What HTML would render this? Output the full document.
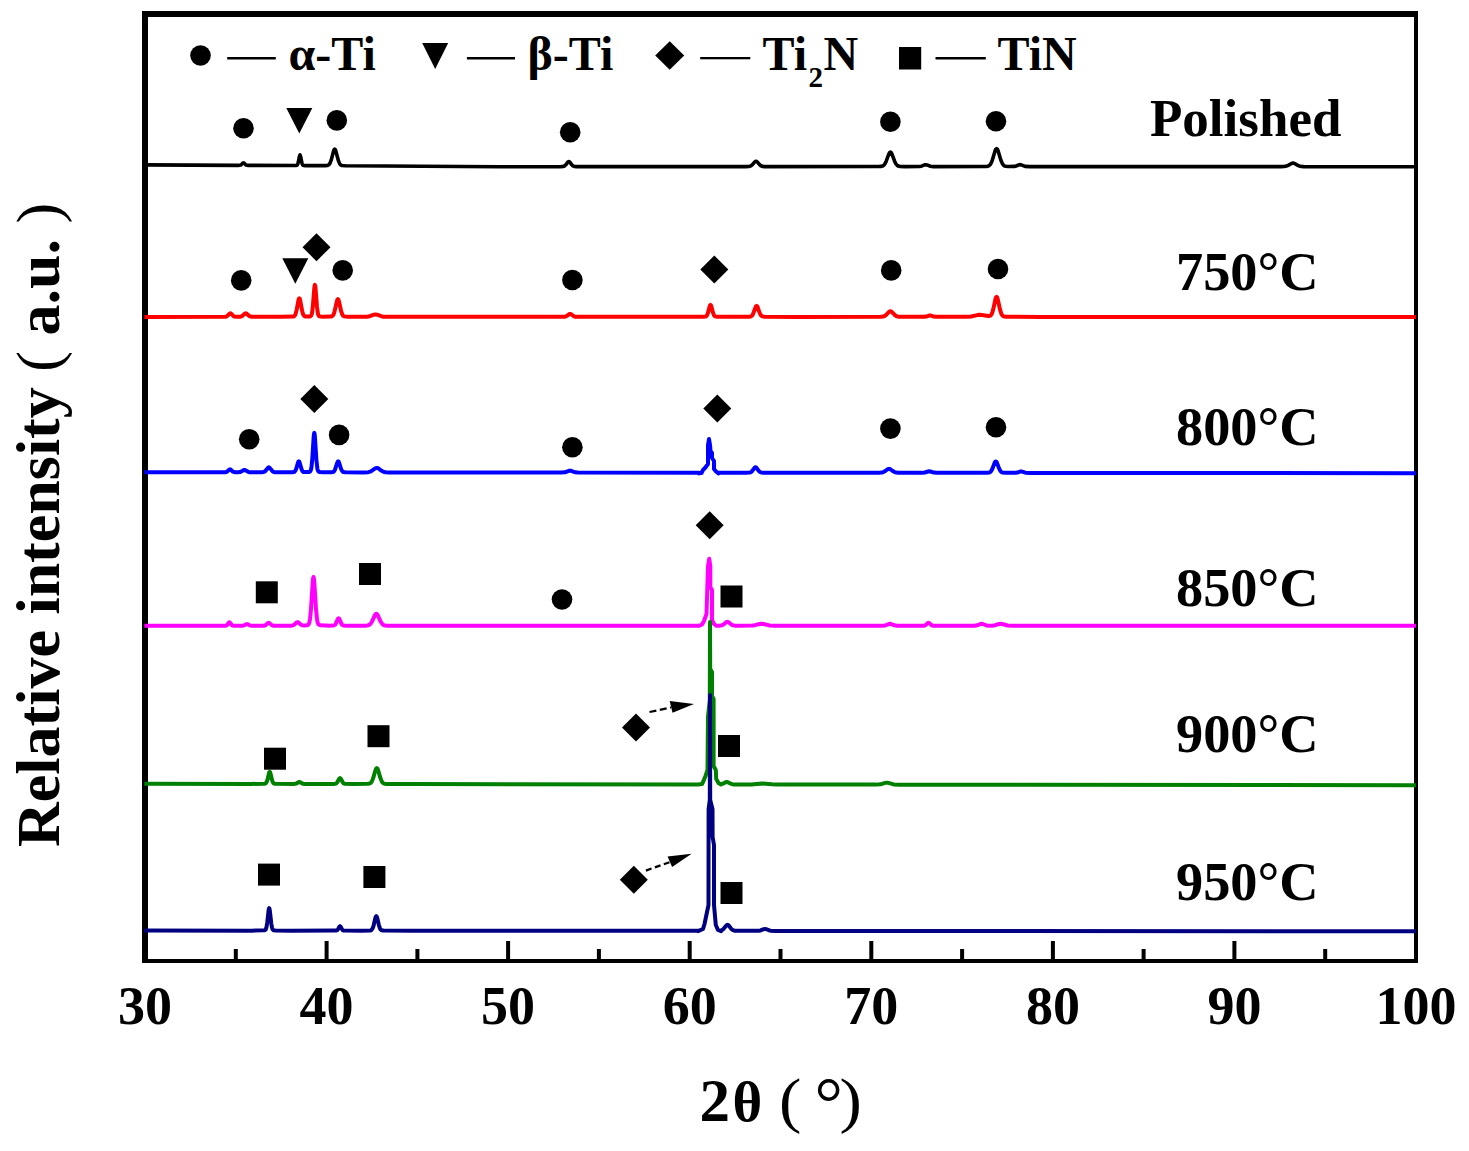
<!DOCTYPE html>
<html><head><meta charset="utf-8"><style>
html,body{margin:0;padding:0;background:#fff;}
svg{display:block;}
.t{font-family:"Liberation Serif",serif;font-weight:bold;fill:#000;}
</style></head><body>
<svg width="1469" height="1151" viewBox="0 0 1469 1151">
<rect width="1469" height="1151" fill="#fff"/>
<rect x="142" y="11" width="6" height="952"/>
<rect x="142" y="11" width="1276" height="6"/>
<rect x="1414" y="11" width="4" height="952"/>
<rect x="142" y="959" width="1276" height="4"/>
<g><rect x="233.8" y="949" width="4" height="10"/><rect x="324.6" y="941" width="4" height="18"/><rect x="415.4" y="949" width="4" height="10"/><rect x="506.1" y="941" width="4" height="18"/><rect x="596.9" y="949" width="4" height="10"/><rect x="687.7" y="941" width="4" height="18"/><rect x="778.5" y="949" width="4" height="10"/><rect x="869.3" y="941" width="4" height="18"/><rect x="960.1" y="949" width="4" height="10"/><rect x="1050.9" y="941" width="4" height="18"/><rect x="1141.6" y="949" width="4" height="10"/><rect x="1232.4" y="941" width="4" height="18"/><rect x="1323.2" y="949" width="4" height="10"/></g>
<g><path d="M144.40,164.88 L239.00,165.33 L240.95,164.98 L242.90,163.07 L243.50,162.79 L244.10,163.07 L245.90,164.92 L247.55,165.35 L295.71,165.53 L297.01,165.21 L297.79,164.05 L298.40,161.85 L299.48,156.13 L300.00,154.96 L300.52,156.13 L302.08,163.72 L302.60,164.83 L303.25,165.38 L304.55,165.58 L308.90,165.67 L326.30,165.58 L327.70,165.35 L328.54,164.96 L329.38,164.19 L329.94,163.33 L331.34,159.60 L333.58,150.97 L334.14,149.63 L334.70,149.15 L335.26,149.63 L335.82,150.98 L338.34,160.57 L339.74,163.85 L340.58,164.82 L341.70,165.42 L345.62,165.79 L499.90,166.70 L560.80,166.64 L563.05,166.49 L564.55,165.94 L565.80,164.79 L567.80,162.15 L568.80,161.60 L569.80,162.15 L571.80,164.79 L572.90,165.84 L574.30,166.44 L576.30,166.63 L745.50,166.65 L748.90,166.50 L750.90,165.89 L752.40,164.68 L754.80,161.89 L755.40,161.45 L756.00,161.30 L756.60,161.45 L757.20,161.89 L759.60,164.68 L760.90,165.77 L762.40,166.38 L764.40,166.60 L878.40,166.56 L880.90,166.41 L882.35,166.09 L883.40,165.54 L884.40,164.58 L885.40,163.00 L886.20,161.24 L889.00,153.69 L889.70,152.51 L890.40,152.10 L891.10,152.51 L891.80,153.69 L894.60,161.24 L895.90,163.87 L897.40,165.54 L898.40,166.07 L899.50,166.35 L905.40,166.60 L919.20,166.57 L921.40,166.20 L924.60,164.89 L925.80,164.68 L927.00,164.90 L930.40,166.26 L933.40,166.63 L982.95,166.56 L986.10,166.45 L987.90,166.17 L989.25,165.54 L990.30,164.50 L991.35,162.68 L992.05,160.95 L995.20,150.57 L995.90,149.11 L996.60,148.59 L997.30,149.11 L998.00,150.56 L1000.90,160.23 L1002.55,163.98 L1003.60,165.26 L1004.65,165.94 L1005.90,166.30 L1007.90,166.48 L1014.40,166.41 L1016.10,166.00 L1018.90,164.83 L1020.00,164.65 L1021.20,164.87 L1025.10,166.37 L1029.60,166.65 L1280.90,166.65 L1284.20,166.51 L1286.40,166.10 L1288.20,165.35 L1291.40,163.49 L1293.00,163.10 L1294.60,163.49 L1297.80,165.35 L1299.40,166.04 L1301.40,166.47 L1303.80,166.63 L1415.90,166.70" fill="none" stroke="#000000" stroke-width="3.6" stroke-linejoin="round"/><path d="M144.40,316.90 L224.70,316.83 L226.10,316.66 L227.10,316.23 L229.50,313.68 L230.30,313.28 L231.10,313.67 L233.50,316.22 L234.40,316.62 L235.70,316.80 L239.40,316.78 L241.20,316.44 L242.45,315.74 L244.70,313.68 L245.70,313.29 L246.70,313.68 L248.70,315.54 L249.70,316.23 L250.70,316.60 L251.95,316.79 L281.40,316.85 L292.70,316.62 L293.58,316.43 L294.40,315.97 L295.12,315.04 L295.56,314.08 L296.66,309.91 L298.42,300.28 L298.86,298.78 L299.30,298.25 L299.74,298.78 L300.18,300.27 L302.16,310.93 L302.82,313.42 L303.48,314.99 L304.14,315.85 L305.24,316.41 L307.40,316.56 L309.90,316.40 L310.74,316.05 L311.22,315.48 L311.70,314.28 L312.18,312.03 L312.90,305.79 L314.26,288.31 L314.58,285.75 L314.90,284.83 L315.22,285.75 L315.54,288.32 L316.98,306.68 L317.94,313.69 L318.42,315.19 L319.22,316.19 L320.34,316.52 L322.90,316.67 L330.65,316.58 L331.90,316.25 L332.90,315.46 L333.65,314.21 L334.40,312.14 L336.90,301.10 L337.40,299.68 L337.90,299.17 L338.40,299.68 L338.90,301.10 L341.15,311.26 L342.40,314.73 L343.15,315.75 L344.15,316.38 L347.40,316.74 L367.00,316.72 L369.40,316.33 L373.80,314.66 L375.40,314.39 L377.00,314.66 L381.90,316.45 L383.90,316.74 L386.90,316.85 L562.25,316.86 L564.40,316.76 L565.75,316.45 L566.90,315.85 L569.00,314.23 L570.00,313.90 L571.00,314.23 L574.00,316.35 L575.25,316.71 L577.25,316.85 L703.40,316.79 L705.70,316.49 L706.40,316.05 L706.90,315.44 L707.90,313.09 L709.70,306.20 L710.10,305.24 L710.50,304.90 L710.90,305.24 L711.30,306.20 L712.90,312.41 L713.90,315.10 L714.50,315.95 L715.10,316.40 L717.10,316.77 L743.90,316.84 L748.85,316.76 L750.60,316.52 L751.85,315.82 L752.85,314.45 L755.60,307.09 L756.10,306.21 L756.60,305.90 L757.10,306.21 L757.60,307.09 L759.60,312.79 L760.85,315.25 L762.10,316.33 L764.35,316.76 L797.90,316.89 L880.90,316.79 L883.05,316.54 L884.80,315.87 L886.20,314.80 L889.00,311.91 L889.70,311.46 L890.40,311.30 L891.10,311.46 L891.80,311.91 L894.60,314.80 L895.90,315.81 L897.40,316.45 L899.40,316.76 L924.00,316.83 L926.25,316.55 L929.00,315.55 L930.00,315.39 L931.00,315.55 L933.75,316.55 L936.00,316.84 L966.20,316.79 L971.00,316.43 L977.40,315.10 L979.40,314.85 L981.90,314.95 L988.20,316.06 L989.40,316.01 L990.40,315.62 L991.40,314.55 L992.40,312.32 L993.40,308.64 L995.48,299.03 L996.04,297.43 L996.60,296.86 L997.16,297.44 L997.72,299.05 L999.96,309.41 L1001.40,313.98 L1002.20,315.30 L1003.04,316.05 L1004.16,316.48 L1006.12,316.69 L1040.90,316.89 L1415.90,316.90" fill="none" stroke="#ff0000" stroke-width="4" stroke-linejoin="round"/><path d="M144.40,472.30 L224.40,472.29 L225.80,472.15 L226.80,471.80 L229.20,469.67 L230.00,469.34 L230.80,469.67 L233.00,471.67 L234.80,472.23 L238.00,472.28 L239.90,472.06 L241.15,471.62 L243.40,470.30 L244.40,470.05 L245.40,470.30 L248.15,471.84 L249.65,472.21 L261.55,472.29 L263.55,472.05 L264.80,471.45 L265.80,470.50 L267.80,467.91 L268.80,467.37 L269.80,467.91 L272.55,471.26 L273.40,471.81 L274.40,472.13 L278.90,472.33 L292.60,472.23 L294.40,471.80 L295.40,470.71 L296.40,468.25 L298.00,462.55 L298.40,461.66 L298.80,461.35 L299.20,461.66 L299.60,462.54 L301.60,469.39 L302.20,470.67 L302.80,471.44 L303.60,471.92 L304.60,472.11 L309.18,471.90 L309.98,471.57 L310.62,470.72 L311.10,469.25 L311.58,466.46 L312.38,457.62 L313.66,437.18 L313.98,434.01 L314.30,432.88 L314.62,434.01 L314.90,436.69 L316.40,460.11 L317.40,468.81 L317.98,470.74 L318.78,471.70 L320.06,472.04 L322.90,472.23 L331.38,472.24 L332.70,472.08 L333.58,471.69 L334.24,471.06 L334.90,469.95 L337.32,462.60 L337.76,461.72 L338.20,461.40 L338.64,461.72 L339.08,462.60 L340.90,468.47 L341.94,470.77 L342.60,471.54 L343.26,471.96 L345.68,472.31 L363.60,472.39 L368.40,472.16 L370.90,471.40 L375.20,468.44 L376.80,467.95 L378.40,468.45 L381.60,470.78 L383.40,471.72 L385.60,472.23 L388.80,472.40 L561.00,472.56 L564.90,472.30 L568.80,470.82 L570.00,470.60 L571.20,470.82 L574.80,472.24 L578.10,472.56 L698.90,472.69 L699.00,473.40 L701.50,473.00 L703.00,470.00 L705.00,468.00 L708.00,464.00 L708.00,445.00 L709.00,439.00 L710.00,445.00 L710.50,451.00 L712.00,453.00 L712.00,458.00 L714.00,461.00 L714.00,469.00 L716.00,471.50 L718.50,473.40 L718.90,472.70 L745.40,472.69 L749.75,472.50 L750.90,472.11 L751.75,471.51 L754.50,467.83 L755.00,467.39 L755.50,467.23 L756.00,467.39 L756.50,467.83 L758.50,470.68 L759.75,471.91 L761.25,472.51 L763.40,472.67 L879.40,472.74 L881.65,472.56 L883.40,472.09 L884.80,471.33 L887.60,469.26 L889.00,468.82 L890.40,469.26 L893.20,471.33 L894.60,472.10 L896.35,472.57 L898.40,472.75 L922.40,472.78 L924.80,472.51 L928.10,471.51 L929.30,471.35 L930.50,471.51 L933.90,472.54 L936.90,472.81 L987.12,472.75 L989.40,472.40 L990.20,471.99 L991.04,471.18 L992.40,468.70 L994.68,462.65 L995.24,461.73 L995.80,461.40 L996.36,461.73 L996.90,462.61 L999.16,468.61 L1000.56,471.18 L1001.40,471.99 L1002.24,472.42 L1005.32,472.79 L1015.90,472.78 L1017.40,472.52 L1020.00,471.56 L1021.00,471.40 L1022.00,471.57 L1025.40,472.71 L1029.75,472.90 L1415.90,473.20" fill="none" stroke="#0000ff" stroke-width="4" stroke-linejoin="round"/><path d="M144.40,625.80 L225.05,625.74 L226.10,625.61 L226.90,625.23 L228.80,622.67 L229.40,622.29 L230.00,622.67 L231.90,625.23 L232.70,625.61 L233.90,625.74 L242.90,625.67 L244.20,625.33 L246.20,624.27 L247.00,624.09 L247.80,624.27 L250.00,625.41 L251.40,625.70 L263.70,625.70 L265.50,625.23 L267.90,623.11 L268.70,622.78 L269.50,623.11 L271.70,625.11 L273.30,625.65 L290.90,625.67 L292.40,625.49 L293.50,625.09 L294.50,624.42 L296.50,622.59 L297.50,622.20 L298.40,622.50 L300.75,624.54 L302.00,625.20 L304.25,625.46 L307.30,625.16 L308.40,624.52 L309.10,623.27 L309.70,620.99 L310.10,618.48 L311.10,607.55 L312.70,582.29 L313.10,578.38 L313.50,576.98 L313.90,578.38 L314.30,582.29 L316.10,610.29 L317.10,619.85 L317.70,622.68 L318.30,624.12 L319.10,624.93 L320.70,625.35 L329.90,625.66 L332.90,625.60 L334.20,625.35 L334.90,624.92 L335.60,624.08 L337.80,619.06 L338.20,618.46 L338.60,618.25 L339.00,618.46 L339.40,619.07 L341.60,624.09 L342.40,625.02 L343.40,625.50 L346.40,625.70 L358.90,625.72 L365.45,625.64 L367.90,625.38 L369.65,624.61 L370.90,623.33 L372.10,621.31 L374.90,615.10 L375.60,614.13 L376.30,613.79 L377.00,614.14 L377.70,615.10 L380.50,621.31 L382.25,624.00 L382.95,624.62 L384.00,625.18 L385.40,625.51 L387.15,625.64 L419.40,625.79 L699.00,625.80 L702.00,624.50 L704.00,621.00 L706.50,614.00 L708.00,566.00 L709.20,558.80 L710.30,566.00 L710.30,587.00 L712.00,590.00 L712.00,620.00 L714.00,624.00 L716.50,625.80 L720.20,625.66 L722.00,625.31 L723.50,624.53 L726.20,622.23 L727.40,621.79 L728.60,622.23 L731.30,624.52 L732.80,625.31 L734.60,625.66 L738.20,625.75 L752.00,625.60 L754.90,625.18 L759.50,624.01 L761.50,623.80 L763.50,624.01 L769.40,625.42 L774.40,625.75 L881.40,625.77 L885.20,625.43 L888.80,624.02 L890.00,623.80 L891.20,624.02 L894.50,625.35 L896.90,625.71 L922.30,625.76 L924.10,625.64 L925.10,625.35 L926.10,624.68 L927.70,623.12 L928.50,622.80 L929.30,623.12 L931.10,624.84 L932.10,625.43 L933.40,625.70 L936.10,625.77 L974.40,625.73 L977.10,625.35 L980.40,624.01 L981.60,623.79 L982.80,624.01 L986.40,625.42 L989.70,625.72 L994.30,625.42 L999.10,624.01 L1000.70,623.79 L1002.30,624.01 L1007.50,625.50 L1013.50,625.77 L1415.90,625.80" fill="none" stroke="#ff00ff" stroke-width="4" stroke-linejoin="round"/><path d="M144.40,783.79 L250.90,783.91 L264.30,783.77 L265.74,783.32 L266.64,782.14 L267.54,779.46 L268.98,773.25 L269.34,772.28 L269.70,771.94 L270.06,772.29 L270.42,773.25 L271.86,779.46 L272.58,781.75 L273.48,783.18 L274.02,783.54 L274.92,783.76 L294.50,783.89 L296.30,783.52 L298.50,782.19 L299.30,781.97 L300.10,782.19 L302.40,783.57 L304.30,783.92 L334.60,783.89 L335.90,783.58 L336.80,782.91 L337.60,781.77 L339.20,778.67 L340.00,778.01 L340.80,778.67 L343.00,782.68 L343.80,783.43 L344.80,783.81 L353.40,784.00 L367.80,783.84 L369.30,783.61 L370.20,783.24 L371.10,782.49 L371.90,781.32 L373.20,778.09 L375.60,769.81 L376.20,768.53 L376.80,768.07 L377.40,768.53 L378.00,769.81 L380.40,778.10 L381.90,781.68 L382.80,782.81 L383.70,783.41 L384.90,783.76 L386.40,783.90 L412.90,784.10 L698.00,784.50 L702.00,784.00 L703.50,781.00 L705.50,776.00 L707.50,770.00 L708.00,717.00 L709.80,700.00 L710.00,622.00 L710.20,669.00 L712.00,672.00 L712.00,696.00 L713.60,699.00 L713.60,766.00 L715.80,770.00 L716.20,779.00 L718.50,783.00 L721.00,784.50 L721.10,784.23 L722.90,783.68 L725.60,782.25 L726.80,781.98 L727.90,782.21 L730.70,783.69 L732.20,784.18 L734.00,784.40 L737.60,784.47 L751.40,784.40 L762.40,783.52 L771.90,784.35 L777.40,784.51 L875.90,784.62 L880.40,784.30 L885.20,782.89 L886.80,782.67 L888.40,782.89 L893.60,784.38 L900.00,784.67 L1415.90,785.30" fill="none" stroke="#008000" stroke-width="4" stroke-linejoin="round"/><path d="M144.40,930.60 L251.40,930.63 L264.24,930.37 L265.04,930.12 L265.68,929.50 L266.48,927.29 L267.28,922.25 L268.56,910.61 L268.90,908.72 L269.20,908.16 L269.52,908.80 L269.84,910.61 L271.28,923.52 L272.08,927.93 L272.56,929.23 L273.20,930.03 L274.00,930.35 L275.40,930.49 L290.40,930.65 L335.80,930.60 L336.85,930.40 L337.60,929.86 L339.40,926.67 L340.00,926.18 L340.60,926.67 L342.40,929.86 L343.00,930.33 L343.75,930.56 L361.40,930.66 L370.14,930.45 L371.02,930.21 L371.68,929.78 L372.78,928.05 L373.66,925.29 L375.42,917.79 L375.86,916.62 L376.30,916.21 L376.74,916.62 L377.18,917.79 L378.94,925.29 L380.04,928.54 L380.70,929.56 L381.40,930.13 L382.24,930.42 L383.78,930.57 L410.40,930.72 L697.90,930.85 L698.00,931.20 L703.00,929.00 L704.50,924.00 L708.50,905.00 L708.60,809.00 L709.80,800.00 L710.00,695.00 L710.20,800.00 L712.50,809.00 L712.60,837.00 L714.00,845.00 L714.00,905.00 L715.80,925.00 L718.00,930.00 L721.00,931.20 L721.20,930.49 L723.00,929.54 L726.30,925.53 L726.90,925.04 L727.50,924.87 L728.10,925.04 L728.70,925.53 L731.40,928.97 L732.90,930.15 L734.90,930.70 L738.60,930.83 L758.40,930.78 L760.50,930.44 L763.80,929.10 L765.00,928.89 L766.20,929.11 L768.90,930.26 L770.40,930.65 L776.10,930.88 L1415.90,931.20" fill="none" stroke="#000080" stroke-width="4" stroke-linejoin="round"/></g>
<g><circle cx="243.5" cy="128.3" r="10.3"/><polygon points="286.3,108 312.3,108 299.3,133.5"/><circle cx="336.8" cy="120.4" r="10.3"/><circle cx="570.2" cy="132.3" r="10.3"/><circle cx="890.4" cy="121.8" r="10.3"/><circle cx="996" cy="121.3" r="10.3"/><circle cx="241.2" cy="280.4" r="10.3"/><polygon points="282.3,258.3 308.3,258.3 295.3,283.8"/><polygon points="316.5,233.2 330.5,247.2 316.5,261.2 302.5,247.2"/><circle cx="342.7" cy="270.4" r="10.3"/><circle cx="572.4" cy="280" r="10.3"/><polygon points="714.3,255.60000000000002 728.3,269.6 714.3,283.6 700.3,269.6"/><circle cx="891.2" cy="270.4" r="10.3"/><circle cx="998" cy="269" r="10.3"/><circle cx="249.2" cy="439.3" r="10.3"/><polygon points="314.3,385.1 328.3,399.1 314.3,413.1 300.3,399.1"/><circle cx="339.1" cy="434.9" r="10.3"/><circle cx="572.4" cy="447.2" r="10.3"/><polygon points="717.3,394.5 731.3,408.5 717.3,422.5 703.3,408.5"/><circle cx="890.4" cy="428.6" r="10.3"/><circle cx="996" cy="427.2" r="10.3"/><rect x="255.8" y="581.3" width="22" height="22"/><rect x="359.0" y="563.0" width="22" height="22"/><circle cx="562" cy="599.5" r="10.3"/><polygon points="709.7,511.29999999999995 723.7,525.3 709.7,539.3 695.7,525.3"/><rect x="720.5" y="585.5" width="22" height="22"/><rect x="264.0" y="747.7" width="22" height="22"/><rect x="367.5" y="725.2" width="22" height="22"/><polygon points="636,713.4 650,727.4 636,741.4 622,727.4"/><rect x="718.0" y="735.0" width="22" height="22"/><rect x="258.0" y="863.6" width="22" height="22"/><rect x="363.4" y="866.0" width="22" height="22"/><polygon points="633.8,865.8 647.8,879.8 633.8,893.8 619.8,879.8"/><rect x="720.5" y="882.0" width="22" height="22"/></g>

<g stroke="#000" stroke-width="2.2" fill="none" stroke-dasharray="7,3.5"><line x1="649.5" y1="712" x2="671" y2="707.5"/></g>
<polygon points="669.7,701 694,704 672.5,712.7"/>
<g stroke="#000" stroke-width="2.2" fill="none" stroke-dasharray="6,3.5"><line x1="645.9" y1="870.6" x2="670" y2="862"/></g>
<polygon points="667.6,856.4 691.6,853.7 672.1,866.9"/>

<g><text x="145.0" y="1023.5" text-anchor="middle" class="t" font-size="54">30</text><text x="326.6" y="1023.5" text-anchor="middle" class="t" font-size="54">40</text><text x="508.1" y="1023.5" text-anchor="middle" class="t" font-size="54">50</text><text x="689.7" y="1023.5" text-anchor="middle" class="t" font-size="54">60</text><text x="871.3" y="1023.5" text-anchor="middle" class="t" font-size="54">70</text><text x="1052.9" y="1023.5" text-anchor="middle" class="t" font-size="54">80</text><text x="1234.4" y="1023.5" text-anchor="middle" class="t" font-size="54">90</text><text x="1416.0" y="1023.5" text-anchor="middle" class="t" font-size="54">100</text></g>
<g>
<circle cx="200.5" cy="55.5" r="10.3"/>
<rect x="227.2" y="57" width="48.6" height="2.5"/>
<text x="288.5" y="70.3" class="t" font-size="48">α-Ti</text>
<polygon points="422.2,43.1 448.2,43.1 435.2,69.1"/>
<rect x="466.9" y="57" width="48.1" height="2.5"/>
<text x="527.5" y="70.2" class="t" font-size="48">β-Ti</text>
<polygon points="669.7,41.3 684.2,55.5 669.7,69.7 655.2,55.5"/>
<rect x="700.2" y="57" width="50.1" height="2.3"/>
<text x="762.5" y="70.2" class="t" font-size="48">Ti</text>
<text x="808.5" y="86.9" class="t" font-size="29">2</text>
<text x="823.5" y="70.2" class="t" font-size="48">N</text>
<rect x="899" y="47" width="22.2" height="22.5"/>
<rect x="935.5" y="57" width="50.3" height="2.5"/>
<text x="997.5" y="70.3" class="t" font-size="48">TiN</text>
</g>
<g class="t" font-size="53">
<text x="1150" y="135.7">Polished</text>
<text x="1176" y="290" font-size="55" textLength="142.5" lengthAdjust="spacingAndGlyphs">750°C</text><text x="1176" y="445" font-size="55" textLength="142.5" lengthAdjust="spacingAndGlyphs">800°C</text><text x="1176" y="605.5" font-size="55" textLength="142.5" lengthAdjust="spacingAndGlyphs">850°C</text><text x="1176" y="751.5" font-size="55" textLength="142.5" lengthAdjust="spacingAndGlyphs">900°C</text><text x="1176" y="899.5" font-size="55" textLength="142.5" lengthAdjust="spacingAndGlyphs">950°C</text>
</g>
<text transform="translate(58.7,847) rotate(-90)" class="t" font-size="62">Relative intensity <tspan font-weight="normal">(</tspan> a.u. <tspan font-weight="normal">)</tspan></text>
<g class="t">
<text x="699.5" y="1120.6" font-size="61">2</text>
<text x="732.5" y="1120.6" font-size="57">θ</text>
<text x="779" y="1120.6" font-size="61" font-weight="normal" transform="translate(779,0) scale(1.1,1) translate(-779,0)">(</text>
<text x="814.5" y="1126.6" font-size="71" font-weight="normal">°</text>
<text x="839.4" y="1120.6" font-size="61" font-weight="normal" transform="translate(839,0) scale(1.1,1) translate(-839,0)">)</text>
</g>
</svg>
</body></html>
